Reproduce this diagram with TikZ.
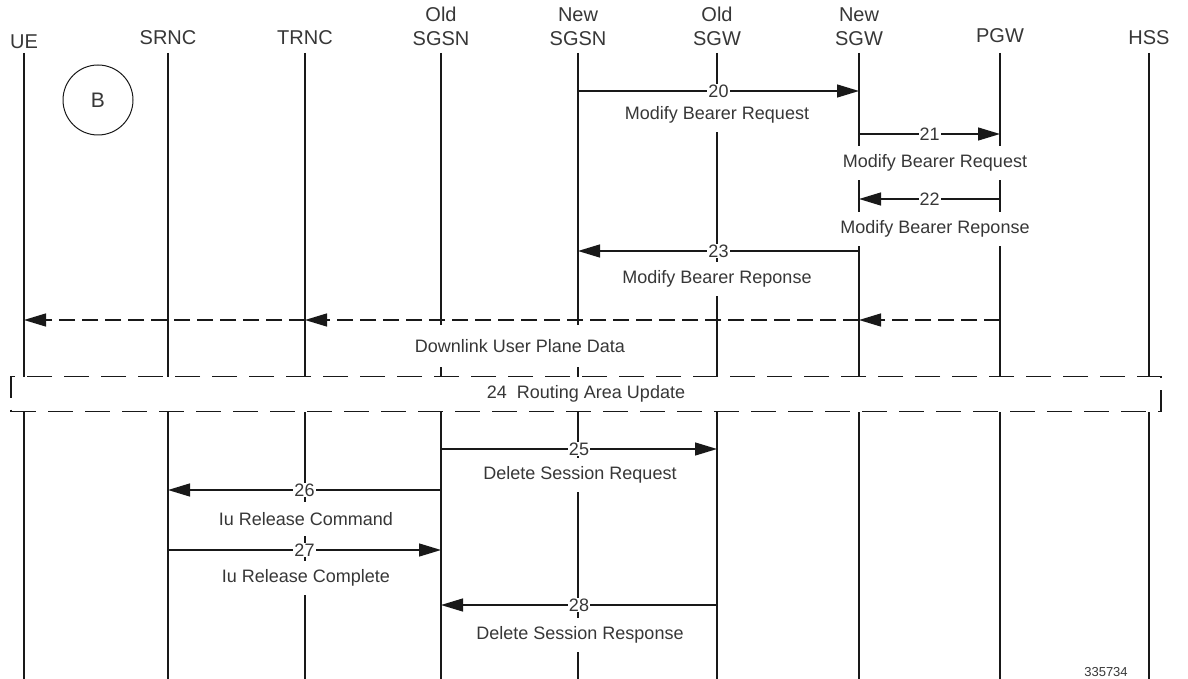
\documentclass[tikz,border=0pt]{standalone}
\usepackage{fontspec}
\setmainfont{Liberation Sans}
\usetikzlibrary{arrows.meta, positioning}
\definecolor{ink}{RGB}{25,25,25}
\definecolor{txt}{RGB}{55,55,55}
\tikzset{>={Triangle[length=22pt,width=13pt]}}

\begin{document}
\begin{tikzpicture}[x=1pt, y=-1pt, line width=1.3pt,
  hdr/.style={align=center, anchor=south, inner sep=0pt, text=txt, font=\fontsize{20}{24}\selectfont},
  life/.style={ink},
  msg/.style={->, ink},
  dmsg/.style={->, ink, dash pattern=on 16pt off 7pt},
  num/.style={fill=white, inner sep=1pt, text=txt, font=\fontsize{18}{20}\selectfont},
  lbl/.style={fill=white, minimum height=34pt, inner xsep=3pt, text=txt, font=\fontsize{18}{20}\selectfont},
  rabox/.style={draw=ink, fill=white, dash pattern=on 25pt off 12pt, minimum width=1150pt, minimum height=35pt, text=txt, font=\fontsize{18}{20}\selectfont}]

			\useasboundingbox (0,0) rectangle (1188,679);

			\node[hdr] (ue) at (24,49) {UE};
			\node[hdr] (srnc) at (168,45) {SRNC};
			\node[hdr] (trnc) at (305,45) {TRNC};
			\node[hdr] (osgsn) at (441,46) {Old\\SGSN};
			\node[hdr] (nsgsn) at (578,46) {New\\SGSN};
			\node[hdr] (osgw) at (717,46) {Old\\SGW};
			\node[hdr] (nsgw) at (859,46) {New\\SGW};
			\node[hdr] (pgw) at (1000,43) {PGW};
			\node[hdr] (hss) at (1149,45) {HSS};

			\coordinate (top) at (0,53);
			\coordinate (bot) at (0,679);
			\foreach \n in {ue,srnc,trnc,osgsn,nsgsn,osgw,nsgw,pgw,hss}
				\draw[life] (\n |- top) -- (\n |- bot);

			\node[draw=ink, line width=1pt, circle, minimum size=70pt, text=txt, font=\fontsize{21}{24}\selectfont] (ctx) at (98,100) {B};

			\coordinate (r20) at (0,91);
			\coordinate (r21) at (0,134);
			\coordinate (r22) at (0,199);
			\coordinate (r23) at (0,251);
			\coordinate (rdl) at (0,320);
			\coordinate (r25) at (0,449);
			\coordinate (r26) at (0,490);
			\coordinate (r27) at (0,550);
			\coordinate (r28) at (0,605);

			\node[lbl] (t20) at (717,115) {Modify Bearer Request};
			\node[lbl] (t21) at (935,163) {Modify Bearer Request};
			\node[lbl] (t22) at (935,229) {Modify Bearer Reponse};
			\node[lbl] (t23) at (717,279) {Modify Bearer Reponse};
			\node[lbl, minimum height=42pt] (tdl) at (520,346) {Downlink User Plane Data};
			\node[rabox] (rau) at (586,394) {24\ \ Routing Area Update};
			\node[lbl] (t25) at (580,475) {Delete Session Request};
			\node[lbl] (t26) at (306,519) {Iu Release Command};
			\node[lbl] (t27) at (306,578) {Iu Release Complete};
			\node[lbl] (t28) at (580,635) {Delete Session Response};

			\draw[msg] (nsgsn |- r20) -- node[num]{20} (nsgw |- r20);
			\draw[msg] (nsgw |- r21) -- node[num]{21} (pgw |- r21);
			\draw[msg] (pgw |- r22) -- node[num]{22} (nsgw |- r22);
			\draw[msg] (nsgw |- r23) -- node[num]{23} (nsgsn |- r23);
			\draw[dmsg] (pgw |- rdl) -- (nsgw |- rdl);
			\draw[dmsg] (nsgw |- rdl) -- (trnc |- rdl);
			\draw[dmsg] (trnc |- rdl) -- (ue |- rdl);
			\draw[msg] (osgsn |- r25) -- node[num]{25} (osgw |- r25);
			\draw[msg] (osgsn |- r26) -- node[num]{26} (srnc |- r26);
			\draw[msg] (srnc |- r27) -- node[num]{27} (osgsn |- r27);
			\draw[msg] (osgw |- r28) -- node[num]{28} (osgsn |- r28);

			\node[text=txt, font=\fontsize{13}{14}\selectfont] (fig) at (1106,672) {335734};

\end{tikzpicture}
\end{document}
